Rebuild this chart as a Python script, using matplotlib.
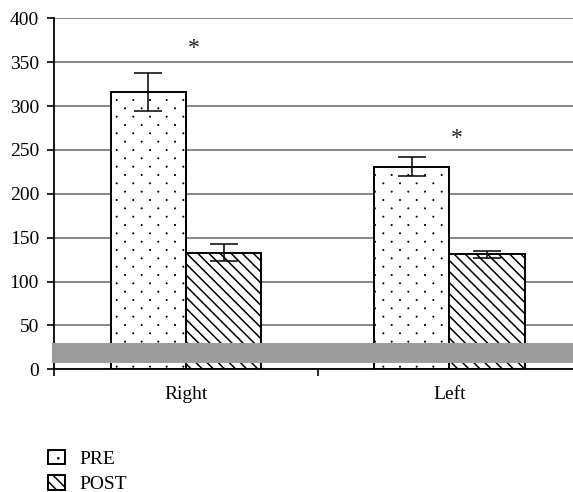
import numpy as np
import matplotlib
matplotlib.use("Agg")
import matplotlib.pyplot as plt
import matplotlib.hatch as mhatch
from matplotlib.path import Path

# data
sides = ["Right", "Left"]
pre_vals = [316, 231]
pre_err = [21.5, 11]
post_vals = [133, 131]
post_err = [9.5, 4]
star_y = [366, 263]
yticks = [0, 50, 100, 150, 200, 250, 300, 350, 400]


class SparseDots(mhatch.HatchPatternBase):
    # small dots in staggered rows, rows twice as close as columns
    def __init__(self, hatch, density):
        self.ncols = hatch.count('.') * density
        self.nrows = 2 * self.ncols
        circle = Path.unit_circle()
        self.shape_vertices = circle.vertices
        self.shape_codes = circle.codes
        if self.ncols == 0:
            self.num_vertices = 0
        else:
            n = ((self.nrows // 2 + 1) * (self.ncols + 1)
                 + (self.nrows // 2) * self.ncols)
            self.num_vertices = n * len(self.shape_vertices)

    def set_vertices_and_codes(self, vertices, codes):
        step = 1.0 / self.ncols
        shape = self.shape_vertices * (0.035 * step)
        vparts, cparts = [], []
        for row in range(self.nrows + 1):
            if row % 2 == 0:
                cols = np.linspace(0, 1, self.ncols + 1)
            else:
                cols = np.linspace(step / 2, 1 - step / 2, self.ncols)
            for c in cols:
                vparts.append(shape + [c, row / self.nrows])
                cparts.append(self.shape_codes)
        np.concatenate(vparts, out=vertices)
        np.concatenate(cparts, out=codes)


mhatch._hatch_types = [SparseDots if t is mhatch.SmallFilledCircles else t
                       for t in mhatch._hatch_types]

plt.rcParams['font.family'] = ['Liberation Serif', 'DejaVu Serif']
plt.rcParams['hatch.linewidth'] = 1.1

fig = plt.figure(figsize=(5.73, 4.92), dpi=100)
ax = fig.add_axes([0.0948, 0.2494, 0.919, 0.7134])

x = np.arange(len(sides))
w = 0.286

b1 = ax.bar(x - w / 2, pre_vals, w, color='white', edgecolor='black',
            linewidth=1.4, hatch='.', label='PRE', zorder=2)
b2 = ax.bar(x + w / 2, post_vals, w, color='white', edgecolor='black',
            linewidth=1.4, hatch='\\\\\\', label='POST', zorder=2)
for p in b1:
    try:
        p.set_hatch_linewidth(0.6)
    except AttributeError:
        pass
ax.errorbar(x - w / 2, pre_vals, yerr=pre_err, fmt='none', ecolor='black',
            elinewidth=1.1, capsize=10, capthick=1.1, zorder=3)
ax.errorbar(x + w / 2, post_vals, yerr=post_err, fmt='none', ecolor='black',
            elinewidth=1.1, capsize=10, capthick=1.1, zorder=3)

for xi, yi in zip(x, star_y):
    ax.text(xi + 0.03, yi, '*', ha='center', va='center', fontsize=17,
            color='#222222')

# grey band over the low part
ax.axhspan(7.5, 30.3, xmin=-0.004, xmax=1, color='#9c9c9c', zorder=4,
           clip_on=False, linewidth=0)

ax.set_xlim(-0.5, 1.5)
ax.set_ylim(0, 400)
ax.set_yticks(yticks)
ax.yaxis.grid(True, color='#666666', linewidth=1.1, zorder=0)
ax.set_axisbelow(True)

ax.set_xticks(x)
ax.set_xticklabels(sides)
ax.set_xticks([-0.5, 0.5, 1.5], minor=True)
ax.tick_params(axis='x', which='major', length=0, pad=12, labelsize=14)
ax.tick_params(axis='x', which='minor', length=5, width=1.2, direction='out')
ax.tick_params(axis='y', length=5, width=1.2, direction='out', pad=6,
               labelsize=14)

for s in ['top', 'right']:
    ax.spines[s].set_visible(False)
for s in ['left', 'bottom']:
    ax.spines[s].set_linewidth(1.3)

leg = fig.legend(handles=[b1, b2], loc='upper left',
                 bbox_to_anchor=(0.084, 0.086), frameon=False, fontsize=14,
                 handlelength=0.85, handleheight=0.75, handletextpad=0.75,
                 labelspacing=0.4, borderpad=0, borderaxespad=0)

fig.savefig('out.png', dpi=100)
